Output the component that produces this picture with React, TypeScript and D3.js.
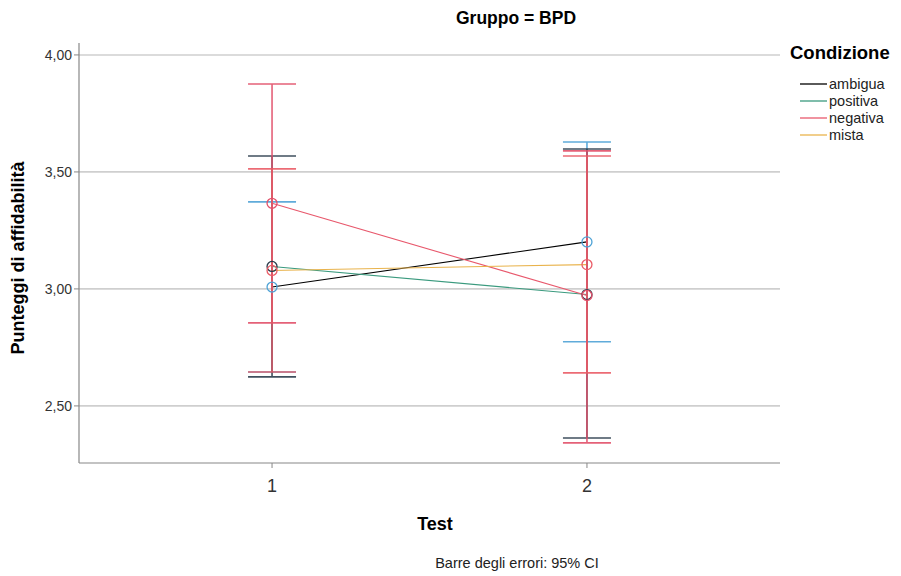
import React from 'react';
import * as d3 from 'd3';

// values
const categories = ['1', '2'];
const series = ['ambigua', 'positiva', 'negativa', 'mista'];
const means = [
  [3.008, 3.201],
  [3.096, 2.976],
  [3.366, 2.972],
  [3.079, 3.104],
];
const lower = [
  [2.645, 2.774],
  [2.624, 2.363],
  [2.855, 2.342],
  [2.645, 2.641],
];
const upper = [
  [3.372, 3.628],
  [3.568, 3.598],
  [3.876, 3.59],
  [3.513, 3.568],
];
const yTicks = [2.5, 3.0, 3.5, 4.0];

const lineColors = ['#000000', '#3a9a7e', '#e8586c', '#e9b34c'];
const barColors = ['#4fa3d6', '#2b3c4c', '#e2506a', '#ea5b66'];

const font = "Arial, 'Liberation Sans', sans-serif";

export default function App() {
  const W = 901;
  const H = 576;
  const left = 79;
  const right = 780;
  const top = 43;
  const bottom = 463;

  const x = d3.scalePoint<string>().domain(categories).range([left, right]).padding(0.613);
  const y = d3.scaleLinear().domain([2.256, 4.051]).range([bottom, top]);
  const fmt = (v: number) => d3.format('.2f')(v).replace('.', ',');
  const line = d3
    .line<number>()
    .x((_, i) => x(categories[i]) as number)
    .y((d) => y(d));
  const cap = 24;

  return (
    <svg
      width={W}
      height={H}
      style={{ position: 'absolute', left: 0, top: 0, background: '#fff' }}
      fontFamily={font}
    >
      <rect width={W} height={H} fill="#fff" />
      <text x={516} y={24} textAnchor="middle" fontSize={17.5} fontWeight="bold" fill="#000">
        Gruppo = BPD
      </text>

      {/* grid */}
      {yTicks.map((t) => (
        <g key={t}>
          <line x1={left} x2={right} y1={y(t)} y2={y(t)} stroke="#cfcfcf" strokeWidth={1.6} />
          <line x1={left - 5} x2={left} y1={y(t)} y2={y(t)} stroke="#888" />
          <text x={left - 7} y={y(t) + 5} textAnchor="end" fontSize={14} fill="#333">
            {fmt(t)}
          </text>
        </g>
      ))}

      {/* axes */}
      <line x1={left} x2={left} y1={top} y2={bottom} stroke="#888" strokeWidth={1.2} />
      <line x1={left} x2={right} y1={bottom} y2={bottom} stroke="#888" strokeWidth={1.2} />
      {categories.map((c) => (
        <g key={c}>
          <line x1={x(c)} x2={x(c)} y1={bottom} y2={bottom + 5} stroke="#888" />
          <text x={x(c)} y={492} textAnchor="middle" fontSize={18} fill="#333">
            {c}
          </text>
        </g>
      ))}

      {/* series lines */}
      {series.map((s, i) => (
        <path key={s} d={line(means[i]) || ''} fill="none" stroke={lineColors[i]} strokeWidth={1.1} />
      ))}

      {/* error bars */}
      {series.map((s, i) =>
        categories.map((c, j) => {
          const cx = x(c) as number;
          return (
            <g key={s + c} stroke={barColors[i]} strokeWidth={1.6} opacity={0.9}>
              <line x1={cx} x2={cx} y1={y(upper[i][j])} y2={y(lower[i][j])} />
              <line x1={cx - cap} x2={cx + cap} y1={y(upper[i][j])} y2={y(upper[i][j])} />
              <line x1={cx - cap} x2={cx + cap} y1={y(lower[i][j])} y2={y(lower[i][j])} />
            </g>
          );
        })
      )}

      {/* markers */}
      {series.map((s, i) =>
        categories.map((c, j) => (
          <circle
            key={s + c}
            cx={x(c)}
            cy={y(means[i][j])}
            r={5}
            fill="none"
            stroke={barColors[i]}
            strokeWidth={1.3}
          />
        ))
      )}

      {/* axis titles */}
      <text
        transform={`translate(24,258) rotate(-90)`}
        textAnchor="middle"
        fontSize={18}
        fontWeight="bold"
        fill="#000"
      >
        Punteggi di affidabilità
      </text>
      <text x={435} y={530} textAnchor="middle" fontSize={18} fontWeight="bold" fill="#000">
        Test
      </text>
      <text x={517} y={568} textAnchor="middle" fontSize={14.5} fill="#222">
        Barre degli errori: 95% CI
      </text>

      {/* legend */}
      <text x={790} y={59} fontSize={18.5} fontWeight="bold" fill="#000">
        Condizione
      </text>
      {series.map((s, i) => {
        const ly = 84 + i * 17;
        return (
          <g key={s}>
            <line x1={800} x2={827} y1={ly} y2={ly} stroke={lineColors[i]} strokeWidth={1.3} />
            <text x={829} y={ly + 5} fontSize={14.5} fill="#222">
              {s}
            </text>
          </g>
        );
      })}
    </svg>
  );
}
